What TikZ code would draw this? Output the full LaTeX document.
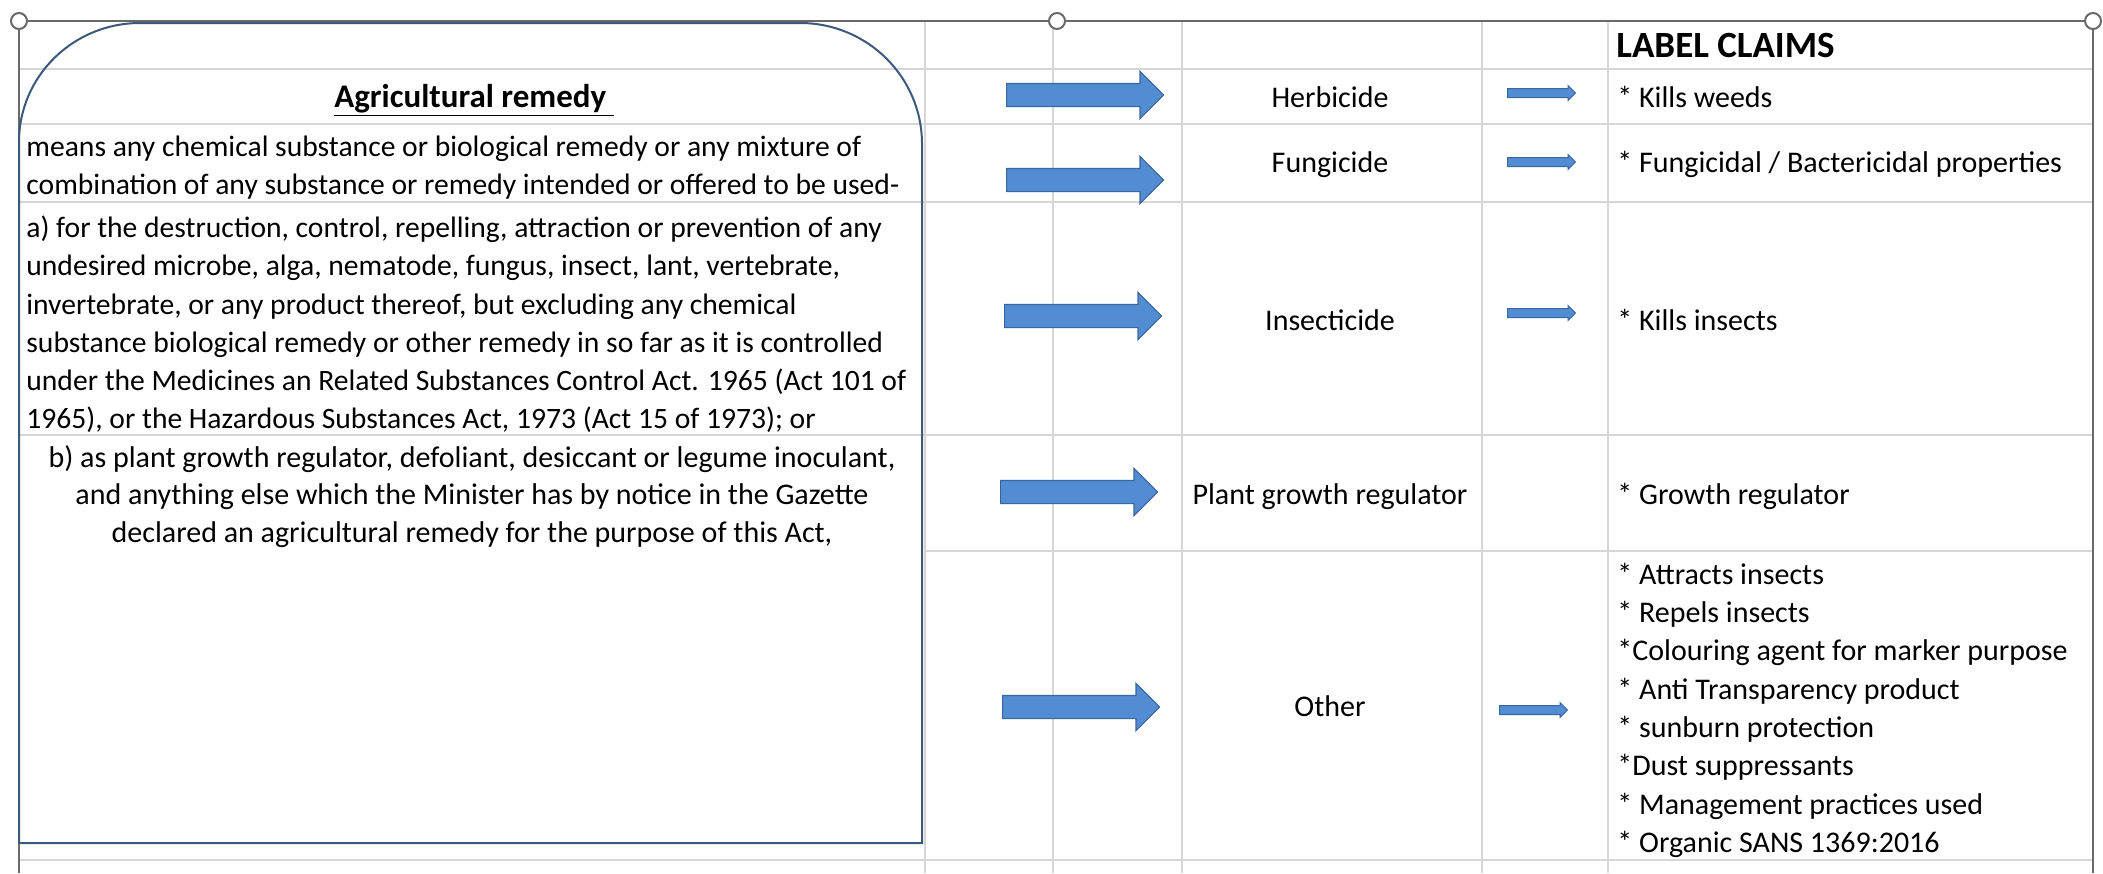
\documentclass[tikz,border=0pt]{standalone}
\usepackage{fontspec}
\setmainfont{Carlito}
\usetikzlibrary{shapes.arrows,positioning}
\definecolor{gridgrey}{RGB}{214,214,214}
\definecolor{selgrey}{RGB}{105,105,105}
\definecolor{boxblue}{RGB}{60,88,122}
\definecolor{arrowfill}{RGB}{82,140,211}
\definecolor{arrowline}{RGB}{58,102,158}
\newcommand{\cellfont}{\fontsize{15}{18}\selectfont}
\tikzstyle{gridline} = [draw=gridgrey, line width=0.75pt]
\tikzstyle{selline} = [draw=selgrey, line width=1pt]
\tikzset{
  cell/.style ={font=\cellfont, inner sep=0pt, text height=11pt, text depth=4pt},
  handle/.style ={circle, draw=selgrey, fill=white, line width=1pt, inner sep=0pt, minimum size=8pt},
  bigarrow/.style ={single arrow, draw=arrowline, fill=arrowfill, line width=0.6pt, inner sep=0pt,
    text height=11pt, text depth=0pt, minimum height=78.5pt, minimum width=23pt,
    single arrow head extend=6pt, anchor=tail},
  smallarrow/.style ={single arrow, draw=arrowline, fill=arrowfill, line width=0.5pt, inner sep=0pt,
    text height=4pt, text depth=0pt, minimum height=34pt, minimum width=7pt,
    single arrow head extend=1.5pt, anchor=tail}
}

\begin{document}
\begin{tikzpicture}[x=0.5pt,y=-0.5pt]
	\useasboundingbox (0,0) rectangle (2103,873);
	% sheet grid
	\foreach \y in {69,124,202,435,860}
		\draw[gridline] (19,\y) -- (2093,\y);
	\draw[gridline] (925,551) -- (2093,551);
	\foreach \x in {925,1053,1182,1482,1608}
		\draw[gridline] (\x,21) -- (\x,873);
	% selection frame
	\node[handle] (hl) at (19,21) {};
	\node[handle] (hm) at (1057,21) {};
	\node[handle] (hr) at (2093,21) {};
	\coordinate (fl) at (19,873);
	\coordinate (fr) at (2093,873);
	\draw[selline] (hl) -- (hm);
	\draw[selline] (hm) -- (hr);
	\draw[selline] (hl) -- (fl);
	\draw[selline] (hr) -- (fr);
	% definition box
	\draw[boxblue, line width=1pt] (19,843) -- (19,142) to[out=90,in=180] (140,23) -- (800,23)
		to[out=0,in=90] (922,144) -- (922,843) -- cycle;
	\node[cell, font=\fontsize{16.5}{19}\selectfont\bfseries] (title) at (474,100) {\underline{Agricultural remedy\ }};
	\foreach \y/\t in {149/{means any chemical substance or biological remedy or any mixture of},
		187/{combination of any substance or remedy intended or offered to be used-},
		230/{a) for the destruction, control, repelling, attraction or prevention of any},
		268/{undesired microbe, alga, nematode, fungus, insect, lant, vertebrate,},
		307/{invertebrate, or any product thereof, but excluding any chemical},
		345/{substance biological remedy or other remedy in so far as it is controlled},
		383/{under the Medicines an Related Substances Control Act. 1965 (Act 101 of},
		421/{1965), or the Hazardous Substances Act, 1973 (Act 15 of 1973); or}}
		\node[cell, anchor=west, font=\fontsize{14.8}{18}\selectfont] (p\y) at (26,\y) {\t};
	\foreach \y/\t in {460/{b) as plant growth regulator, defoliant, desiccant or legume inoculant,},
		497/{and anything else which the Minister has by notice in the Gazette},
		535/{declared an agricultural remedy for the purpose of this Act,}}
		\node[cell] (b\y) at (472,\y) {\t};
	% block arrows
	\node[bigarrow] (aherb) at (1006,95) {};
	\node[bigarrow] (afung) at (1006,180) {};
	\node[bigarrow] (ains) at (1004,316) {};
	\node[bigarrow] (apgr) at (1000,492) {};
	\node[bigarrow] (aoth) at (1002,707) {};
	% remedy types
	\node[cell] (herb) at (1330,100) {Herbicide};
	\node[cell] (fung) at (1330,165) {Fungicide};
	\node[cell] (ins) at (1330,323) {Insecticide};
	\node[cell] (pgr) at (1330,497) {Plant growth regulator};
	\node[cell] (oth) at (1330,709) {Other};
	\node[smallarrow] (sherb) at (1507,93) {};
	\node[smallarrow] (sfung) at (1507,162) {};
	\node[smallarrow] (sins) at (1507,313) {};
	\node[smallarrow] (soth) at (1499,710) {};
	% label claims
	\node[cell, anchor=west, font=\fontsize{18.5}{21}\selectfont\bfseries] (claims) at (1616,50) {LABEL CLAIMS};
	\node[cell, anchor=west] (cherb) at (1617,100) {* Kills weeds};
	\node[cell, anchor=west] (cfung) at (1617,165) {* Fungicidal / Bactericidal properties};
	\node[cell, anchor=west] (cins) at (1617,323) {* Kills insects};
	\node[cell, anchor=west] (cpgr) at (1617,497) {* Growth regulator};
	\foreach \y/\t in {577/{* Attracts insects}, 615/{* Repels insects},
		653/{*Colouring agent for marker purpose}, 692/{* Anti Transparency product},
		730/{* sunburn protection}, 768/{*Dust suppressants},
		807/{* Management practices used}, 845/{* Organic SANS 1369:2016}}
		\node[cell, anchor=west] (c\y) at (1617,\y) {\t};
\end{tikzpicture}
\end{document}
